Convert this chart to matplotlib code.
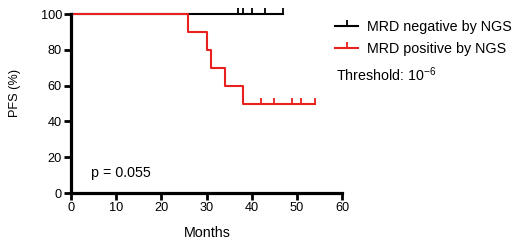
import matplotlib
matplotlib.use("Agg")
import matplotlib.pyplot as plt
from matplotlib.lines import Line2D

plt.rcParams['font.family'] = ['Liberation Sans', 'DejaVu Sans']
plt.rcParams['mathtext.fontset'] = 'custom'
plt.rcParams['mathtext.rm'] = 'Liberation Sans'

# Data
neg_times = [0, 47]
neg_surv = [100, 100]
neg_censor_t = [37, 38, 40, 43, 47]
neg_censor_s = [100, 100, 100, 100, 100]

pos_times = [0, 26, 30, 31, 34, 38, 54]
pos_surv = [100, 90, 80, 70, 60, 50, 50]
pos_censor_t = [42, 45, 49, 51, 54]
pos_censor_s = [50, 50, 50, 50, 50]

x_ticks = [0, 10, 20, 30, 40, 50, 60]
y_ticks = [0, 20, 40, 60, 80, 100]
labels = ["MRD negative by NGS", "MRD positive by NGS"]
colors = ["#000000", "#e8211f"]

fs = 10.3
fig = plt.figure(figsize=(5.2, 2.46), dpi=100)
ax = fig.add_axes([0.1365, 0.2154, 0.5215, 0.7276])

lw = 1.5
ax.step(neg_times, neg_surv, where='post', color=colors[0], lw=lw, zorder=3, clip_on=False)
ax.plot(neg_censor_t, neg_censor_s, ls='none', marker=2, ms=4, mew=1.3, color=colors[0],
        zorder=3, clip_on=False)
ax.step(pos_times, pos_surv, where='post', color=colors[1], lw=lw, zorder=4, clip_on=False)
ax.plot(pos_censor_t, pos_censor_s, ls='none', marker=2, ms=4, mew=1.3, color=colors[1],
        zorder=4, clip_on=False)

ax.set_xlim(0, 60)
ax.set_ylim(0, 100)
ax.set_xticks(x_ticks)
ax.set_yticks(y_ticks)
for s in ['top', 'right']:
    ax.spines[s].set_visible(False)
for s in ['left', 'bottom']:
    ax.spines[s].set_linewidth(2.3)
    ax.spines[s].set_zorder(5)
ax.tick_params(axis='both', direction='out', length=5, width=2, labelsize=9.2, pad=1.5)
ax.set_xlabel("Months", fontsize=fs)
ax.xaxis.set_label_coords((207.5 - 71) / 271, -(226 - 193) / 179)
fig.text(15 / 520, 1 - 93 / 246, "PFS (%)", fontsize=9.2, rotation=90, ha='center', va='center')
ax.text(4.4, 11, "p = 0.055", fontsize=fs, va='center', ha='left')

handles = [Line2D([0], [0], color=c, lw=lw, marker=2, ms=4, mew=1.3) for c in colors]
fig.legend(handles, labels, loc='upper left', bbox_to_anchor=(0.634, 0.94),
           frameon=False, fontsize=fs, handlelength=1.6, handletextpad=0.6,
           labelspacing=0.5, borderaxespad=0, numpoints=1)
fig.text(336 / 520, 1 - 75 / 246, r"Threshold: 10$^{\mathregular{-6}}$", fontsize=fs,
         va='center', ha='left')

fig.savefig("out.png", dpi=100)
